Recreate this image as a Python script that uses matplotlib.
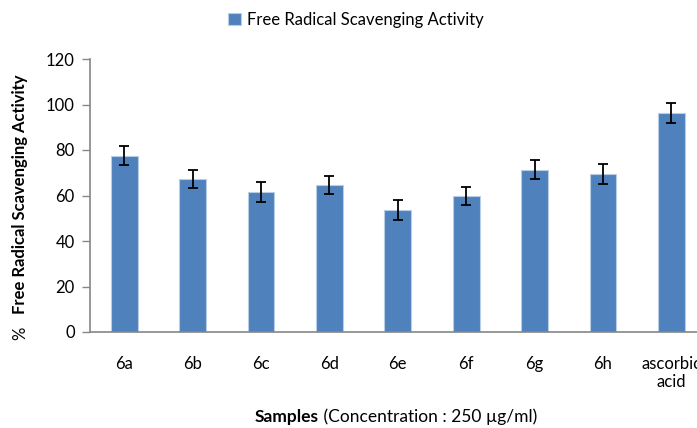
import numpy as np
import matplotlib.pyplot as plt

plt.rcParams['font.family'] = ['Lato', 'DejaVu Sans']

# Data
samples = ['6a', '6b', '6c', '6d', '6e', '6f', '6g', '6h', 'ascorbic\nacid']
activity = [77.5, 67.2, 61.6, 64.5, 53.7, 59.7, 71.4, 69.5, 96.1]
errors = [4.3, 4.1, 4.3, 4.0, 4.5, 4.0, 4.3, 4.4, 4.4]
yticks = [0, 20, 40, 60, 80, 100, 120]

bar_color = '#4F81BD'
axis_color = '#868686'
fs = 12

fig = plt.figure(figsize=(6.97, 4.28), dpi=100)
ax = fig.add_axes([90 / 697, 96 / 428, 615.6 / 697, 273 / 428])

x = np.arange(len(samples))
ax.bar(x, activity, width=0.39, color=bar_color, edgecolor='#B9CDE5',
       linewidth=0.8, label='Free Radical Scavenging Activity', zorder=2)
ax.errorbar(x, activity, yerr=errors, fmt='none', ecolor='black',
            elinewidth=1.3, capsize=3.3, capthick=1.3, zorder=3)

ax.set_xlim(-0.5, len(samples) - 0.5)
ax.set_ylim(0, 120)
ax.set_yticks(yticks)
ax.set_xticks(x)
ax.set_xticklabels(samples, fontsize=fs, linespacing=1.15, va='top')
ax.tick_params(axis='x', length=0, pad=17)
ax.tick_params(axis='y', length=6, width=1, color=axis_color, labelsize=fs, pad=5)

for side in ['top', 'right']:
    ax.spines[side].set_visible(False)
for side in ['left', 'bottom']:
    ax.spines[side].set_color(axis_color)
    ax.spines[side].set_linewidth(1.2)

# legend on top
ax.legend(loc='center', bbox_to_anchor=(356 / 697, 1 - 20 / 428),
          bbox_transform=fig.transFigure, frameon=False, fontsize=fs,
          handlelength=0.75, handleheight=0.75, handletextpad=0.35)

# y label: "%" regular, rest bold
pct = fig.text(20 / 697, 1 - 333 / 428, '%', rotation=90, fontsize=fs,
               ha='center', va='center')
ax.annotate('Free Radical Scavenging Activity', xy=(0.5, 1), xycoords=pct,
            xytext=(0, 9), textcoords='offset points', rotation=90,
            fontsize=fs, fontweight='bold', ha='center', va='bottom',
            annotation_clip=False)

# x label: "Samples" bold, rest regular
smp = fig.text(255 / 697, 1 - 417 / 428, 'Samples', fontsize=12.5,
               fontweight='bold', ha='left', va='center')
ax.annotate(' (Concentration : 250 \u00b5g/ml)', xy=(1, 0.5), xycoords=smp,
            fontsize=12.5, ha='left', va='center', annotation_clip=False)

fig.savefig('out.png', dpi=100)
